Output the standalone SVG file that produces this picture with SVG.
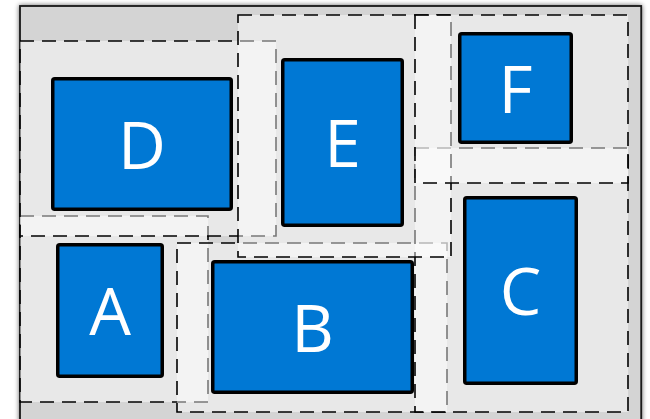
<svg xmlns="http://www.w3.org/2000/svg" width="650" height="419" viewBox="0 0 650 419">
  <defs>
    <filter id="frameShadow" x="-5%" y="-5%" width="110%" height="110%">
      <feGaussianBlur in="SourceAlpha" stdDeviation="2.5"/>
      <feComponentTransfer><feFuncA type="linear" slope="0.6"/></feComponentTransfer>
      <feMerge><feMergeNode/><feMergeNode in="SourceGraphic"/></feMerge>
    </filter>
  </defs>
  <style>
    .frame { fill: #d4d4d4; stroke: #1a1a1a; stroke-width: 1.8; }
    .slot { fill: #ffffff; fill-opacity: 0.47; stroke: #000000; stroke-width: 1.6; stroke-dasharray: 14 8; }
    .box { fill: #0078d4; stroke: #000000; stroke-width: 3.5; }
    .label { fill: #ffffff; font-family: "Open Sans", "Noto Sans", "Liberation Sans", sans-serif; font-size: 66px; text-anchor: middle; }
  </style>

  <rect id="frame" class="frame" x="20" y="6" width="621.2" height="440" filter="url(#frameShadow)"/>

  <!-- free-space slots, later ones overlay earlier ones -->
  <g id="slots">
    <rect id="slot-a" class="slot" x="20" y="216" width="188" height="186"/>
    <rect id="slot-d" class="slot" x="20" y="41" width="256" height="195"/>
    <rect id="slot-b" class="slot" x="177" y="243" width="270" height="169"/>
    <rect id="slot-c" class="slot" x="415" y="148" width="213" height="264"/>
    <rect id="slot-e" class="slot" x="238" y="15" width="213" height="242"/>
    <rect id="slot-f" class="slot" x="415" y="15" width="213" height="168"/>
  </g>

  <!-- placed items -->
  <g id="node-d">
    <rect class="box" x="52.75" y="78.75" width="178.5" height="130.5" rx="2"/>
    <text class="label" x="142" y="168.5">D</text>
  </g>
  <g id="node-e">
    <rect class="box" x="282.75" y="59.75" width="119.5" height="165.5" rx="2"/>
    <text class="label" x="342.5" y="167">E</text>
  </g>
  <g id="node-f">
    <rect class="box" x="459.75" y="33.75" width="111.5" height="108.5" rx="2"/>
    <text class="label" x="515.5" y="112.5">F</text>
  </g>
  <g id="node-a">
    <rect class="box" x="57.75" y="244.75" width="104.5" height="131.5" rx="2"/>
    <text class="label" x="110" y="335">A</text>
  </g>
  <g id="node-b">
    <rect class="box" x="212.75" y="261.75" width="199.5" height="130.5" rx="2"/>
    <text class="label" x="312.5" y="351.5">B</text>
  </g>
  <g id="node-c">
    <rect class="box" x="464.75" y="197.75" width="111.5" height="185.5" rx="2"/>
    <text class="label" x="520.5" y="315">C</text>
  </g>
</svg>
